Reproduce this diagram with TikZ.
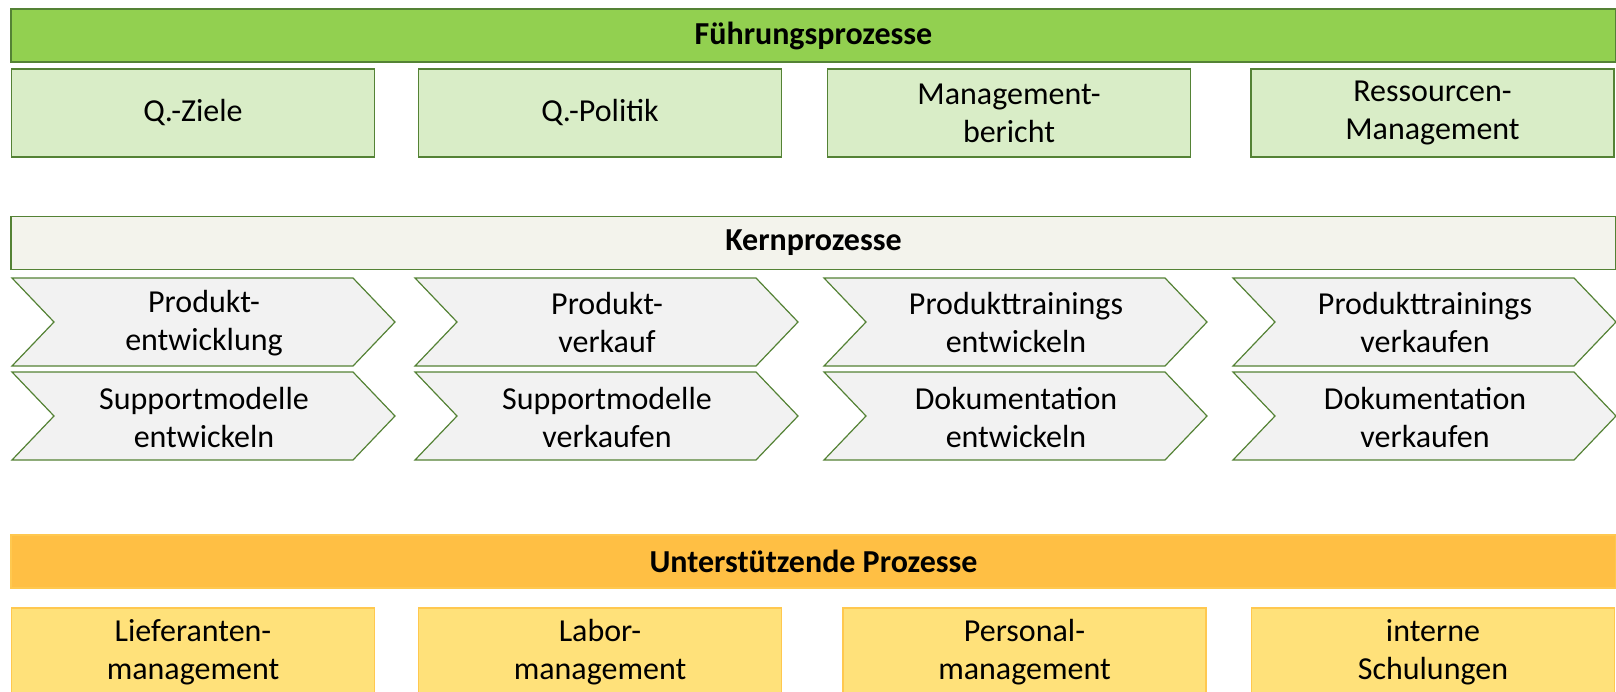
\documentclass[tikz,border=0pt]{standalone}
\usepackage{fontspec}
\setmainfont{Carlito}
\usetikzlibrary{positioning}

\definecolor{fgruen}{HTML}{92D050}
\definecolor{frand}{HTML}{548235}
\definecolor{fhell}{HTML}{D9EDC7}
\definecolor{kernbg}{HTML}{F3F3EC}
\definecolor{chevbg}{HTML}{F2F2F2}
\definecolor{uorange}{HTML}{FFBF44}
\definecolor{urand}{HTML}{FFC84F}
\definecolor{ugelb}{HTML}{FFE17A}

\tikzset{
  bar/.style={minimum width=1605pt, minimum height=53pt, inner sep=0pt,
    line width=1.2pt, font=\bfseries\fontsize{32}{38}\selectfont},
  kasten/.style={minimum width=363pt, minimum height=88pt, inner sep=0pt,
    line width=1.2pt, align=center, font=\fontsize{32}{38}\selectfont},
  fkasten/.style={kasten, draw=frand, fill=fhell},
  ukasten/.style={kasten, draw=urand, fill=ugelb},
  chev/.style={draw=frand, fill=chevbg, line width=1.2pt},
  chevtext/.style={align=center, inner sep=0pt, font=\fontsize{32}{38}\selectfont}
}

\begin{document}
\begin{tikzpicture}[x=1pt, y=-1pt]
  \useasboundingbox (0,0) rectangle (1616,691);

  % Fuehrungsprozesse
  \node[bar, draw=frand, fill=fgruen] (fuehrung) at (813.5,35.5) {Führungsprozesse};
  \node[fkasten] (ziele)   at (193,113)  {Q.-Ziele};
  \node[fkasten] (politik) at (600,113)  {Q.-Politik};
  \node[fkasten] (mbericht) at (1009,113) {Management-\\bericht};
  \node[fkasten] (ressourcen) at (1432.5,113) {Ressourcen-\\Management};

  % Kernprozesse
  \node[bar, draw=frand, fill=kernbg] (kern) at (813.5,243) {Kernprozesse};
  \foreach \L/\T/\name/\txt in {
      12/278/pentw/{Produkt-\\entwicklung},
      415/278/pverk/{Produkt-\\verkauf},
      824/278/ptentw/{Produkttrainings\\entwickeln},
      1233/278/ptverk/{Produkttrainings\\verkaufen},
      12/372/sentw/{Supportmodelle\\entwickeln},
      415/372/sverk/{Supportmodelle\\verkaufen},
      824/372/dentw/{Dokumentation\\entwickeln},
      1233/372/dverk/{Dokumentation\\verkaufen}}{
    \draw[chev] (\L,\T) -- ++(341,0) -- ++(42,44) -- ++(-42,44) -- ++(-341,0)
      -- ++(42,-44) -- cycle;
    \node[chevtext] (\name) at (\L+192,\T+45) {\txt};
  }

  % Unterstuetzende Prozesse
  \node[bar, draw=urand, fill=uorange] (unterst) at (813.5,561.5) {Unterstützende Prozesse};
  \node[ukasten] (liefer)   at (193,652)    {Lieferanten-\\management};
  \node[ukasten] (labor)    at (600,652)    {Labor-\\management};
  \node[ukasten] (personal) at (1024.5,652) {Personal-\\management};
  \node[ukasten] (schulung) at (1433,652)   {interne\\Schulungen};
\end{tikzpicture}
\end{document}
